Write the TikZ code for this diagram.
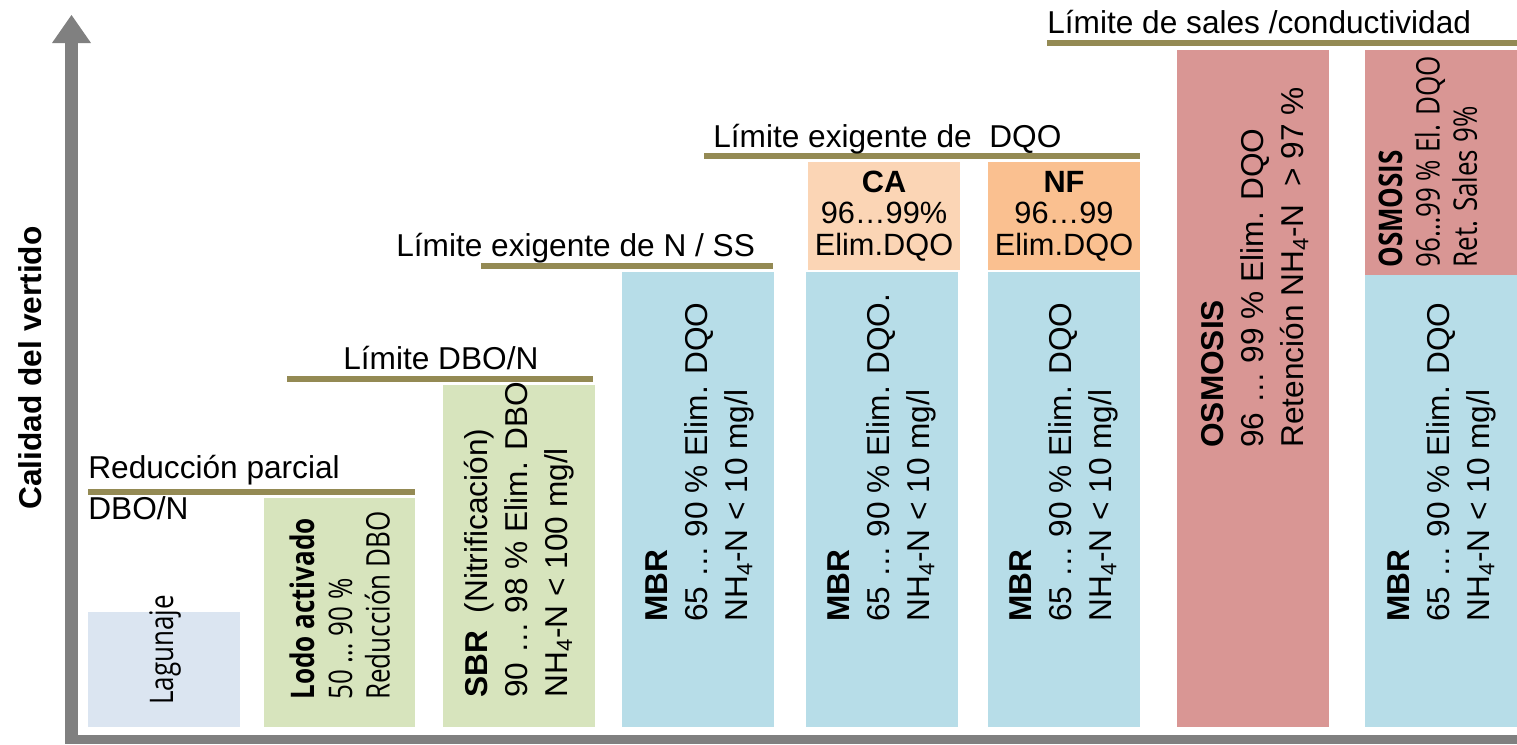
\documentclass[tikz,border=0pt]{standalone}
\usepackage{fontspec}
\setmainfont{Liberation Sans}
\newfontfamily\condfont[FakeStretch=0.8]{Open Sans}
\usetikzlibrary{positioning}

\definecolor{oliva}{HTML}{948A54}
\definecolor{eje}{HTML}{808080}
\definecolor{lagu}{HTML}{DBE5F1}
\definecolor{verde}{HTML}{D7E4BD}
\definecolor{azul}{HTML}{B7DDE8}
\definecolor{rosa}{HTML}{D99694}
\definecolor{melon}{HTML}{FBD5B5}
\definecolor{naranja}{HTML}{FAC090}

\tikzset{
  limite/.style={draw=oliva, line width=3.4pt},
  titulo/.style={anchor=base west, inner sep=0pt, font=\fontsize{18}{22}\selectfont},
  vert/.style={rotate=90, anchor=west, align=left, inner sep=0pt,
    font=\fontsize{18}{22.7}\selectfont},
  vertc/.style={rotate=90, anchor=west, align=left, inner sep=0pt,
    font=\condfont\fontsize{18.5}{21.3}\selectfont},
  tapa/.style={align=center, inner sep=0pt, font=\fontsize{17.5}{17.9}\selectfont}
}

\begin{document}
\begin{tikzpicture}[x=0.02cm, y=-0.02cm]
  \useasboundingbox (0,0) rectangle (1517,744);

  % ejes
  \fill[eje] (65,43) rectangle (78,744);
  \fill[eje] (52,43) -- (71.5,15) -- (91,43) -- cycle;
  \fill[eje] (65,735) rectangle (1517,744);
  \node[rotate=90, inner sep=0pt, font=\bfseries\fontsize{18}{22}\selectfont]
    (ylab) at (30,368) {Calidad del vertido};

  % cajas
  \fill[lagu]    (88,612)   rectangle (240,727);
  \fill[verde]   (264,498)  rectangle (415,727);
  \fill[verde]   (443,385)  rectangle (595,727);
  \fill[azul]    (622,272)  rectangle (774,727);
  \fill[melon]   (808,162)  rectangle (960,270);
  \fill[azul]    (806,272)  rectangle (958,727);
  \fill[naranja] (988,162)  rectangle (1140,270);
  \fill[azul]    (988,272)  rectangle (1140,727);
  \fill[rosa]    (1177,50)  rectangle (1329,727);
  \fill[rosa]    (1365,50)  rectangle (1517,275);
  \fill[azul]    (1365,275) rectangle (1517,727);

  % limites
  \draw[limite] (88,492)   -- (415,492);
  \draw[limite] (287,379)  -- (593,379);
  \draw[limite] (481,266)  -- (773,266);
  \draw[limite] (704,156)  -- (1140,156);
  \draw[limite] (1047,43)  -- (1517,43);

  \node[titulo] (redu)   at (88,478)   {Reducción parcial};
  \node[titulo] (redu2)  at (88,519)   {DBO/N};
  \node[titulo] (dbon)   at (343,369)  {Límite DBO/N};
  \node[titulo] (nss)    at (396,256)  {Límite exigente de N / SS};
  \node[titulo] (dqo)    at (713,147)  {Límite exigente de \ DQO};
  \node[titulo] (sales)  at (1047,33)  {Límite de sales /conductividad};

  % textos de las cajas
  \node[vertc] (lagunaje) at (165,705) {Lagunaje};
  \node[vertc] (lodo) at (340,700)
    {\textbf{Lodo activado}\\50 … 90 \%\\Reducción DBO};
  \node[vert] (sbr) at (519,698)
    {\textbf{SBR} \ (Nitrificación)\\90 … 98 \% Elim. DBO\\NH\textsubscript{4}-N < 100 mg/l};
  \node[vert] (mbra) at (700,622)
    {\textbf{MBR}\\65 … 90 \% Elim. DQO\\NH\textsubscript{4}-N < 10 mg/l};
  \node[vert] (mbrb) at (882,622)
    {\textbf{MBR}\\65 … 90 \% Elim. DQO.\\NH\textsubscript{4}-N < 10 mg/l};
  \node[vert] (mbrc) at (1064,622)
    {\textbf{MBR}\\65 … 90 \% Elim. DQO\\NH\textsubscript{4}-N < 10 mg/l};
  \node[vert] (mbrd) at (1442,622)
    {\textbf{MBR}\\65 … 90 \% Elim. DQO\\NH\textsubscript{4}-N < 10 mg/l};
  \node[vert] (osma) at (1255,448)
    {\textbf{OSMOSIS}\\96 … 99 \% Elim. DQO\\Retención NH\textsubscript{4}-N \ > 97 \%};
  \node[vertc] (osmb) at (1428,268)
    {\textbf{OSMOSIS}\\96…99 \% El. DQO\\Ret. Sales 9\%};

  \node[tapa] (ca) at (884,216) {\textbf{CA}\\96…99\%\\Elim.DQO};
  \node[tapa] (nf) at (1064,216) {\textbf{NF}\\96…99\\Elim.DQO};
\end{tikzpicture}
\end{document}
